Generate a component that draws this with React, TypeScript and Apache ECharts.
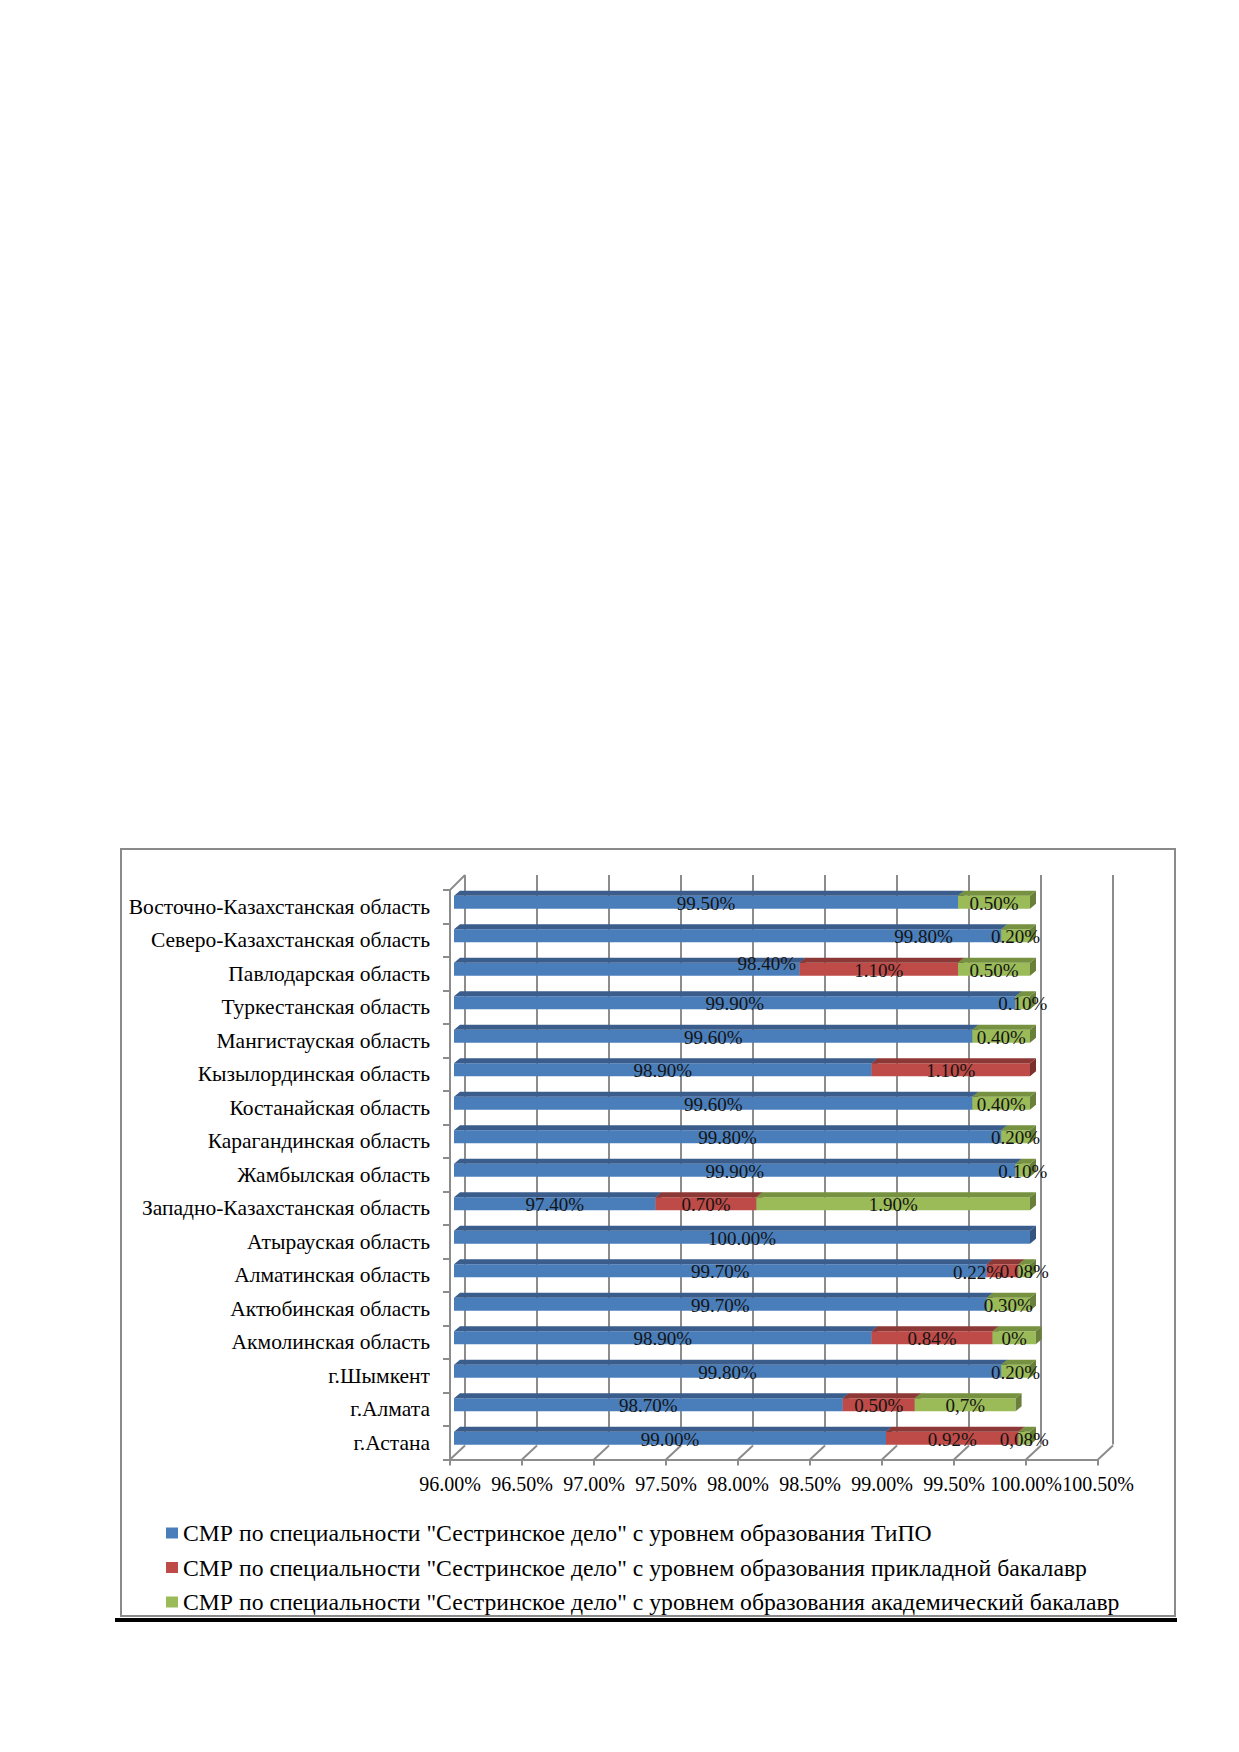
import React, { useEffect, useRef } from "react";
import * as echarts from "echarts";

const categories = [
  "Восточно-Казахстанская область",
  "Северо-Казахстанская область",
  "Павлодарская область",
  "Туркестанская область",
  "Мангистауская область",
  "Кызылординская область",
  "Костанайская область",
  "Карагандинская область",
  "Жамбылская область",
  "Западно-Казахстанская область",
  "Атырауская область",
  "Алматинская область",
  "Актюбинская область",
  "Акмолинская область",
  "г.Шымкент",
  "г.Алмата",
  "г.Астана",
];

const seriesNames = [
  'СМР по специальности "Сестринское дело" с уровнем образования ТиПО',
  'СМР по специальности "Сестринское дело" с уровнем образования прикладной бакалавр',
  'СМР по специальности "Сестринское дело" с уровнем образования академический бакалавр',
];

const tipoValues = [99.5, 99.8, 98.4, 99.9, 99.6, 98.9, 99.6, 99.8, 99.9, 97.4, 100, 99.7, 99.7, 98.9, 99.8, 98.7, 99.0];
const prikladValues = [0, 0, 1.1, 0, 0, 1.1, 0, 0, 0, 0.7, 0, 0.22, 0, 0.84, 0, 0.5, 0.92];
const akadValues = [0.5, 0.2, 0.5, 0.1, 0.4, 0, 0.4, 0.2, 0.1, 1.9, 0, 0.08, 0.3, 0.3, 0.2, 0.7, 0.08];

const tipoLabels = ["99.50%", "99.80%", "98.40%", "99.90%", "99.60%", "98.90%", "99.60%", "99.80%", "99.90%", "97.40%", "100.00%", "99.70%", "99.70%", "98.90%", "99.80%", "98.70%", "99.00%"];
const prikladLabels = ["", "", "1.10%", "", "", "1.10%", "", "", "", "0.70%", "", "0.22%", "", "0.84%", "", "0.50%", "0.92%"];
const akadLabels = ["0.50%", "0.20%", "0.50%", "0.10%", "0.40%", "", "0.40%", "0.20%", "0.10%", "1.90%", "", "0.08%", "0.30%", "0%", "0.20%", "0,7%", "0,08%"];

const xTicks = [96, 96.5, 97, 97.5, 98, 98.5, 99, 99.5, 100, 100.5];
const AXIS_MIN = 96;
const AXIS_MAX = 100.5;

// colours: front, top, side
const palette = [
  ["#4A7EBB", "#3A5D8C", "#34557F"],
  ["#BE4B48", "#8C3836", "#7C302E"],
  ["#9BBB59", "#76913F", "#68803A"],
];

// Excel moved a few labels by hand
const labelNudge: Record<string, [number, number]> = {
  "0-1": [196, 0],
  "0-2": [140, -7],
  "1-11": [-25, 1],
};

const GRAY = "#8C8C8C";
const FONT = '"Liberation Serif", "Times New Roman", serif';

const App: React.FC = () => {
  const chartRef = useRef<HTMLDivElement>(null);

  useEffect(() => {
    const chart = echarts.init(chartRef.current, null, { renderer: "svg" });

    const values = [tipoValues, prikladValues, akadValues];
    const labels = [tipoLabels, prikladLabels, akadLabels];

    const barSeries = values.map((vals, si) => {
      const data: any[] = [];
      vals.forEach((v, i) => {
        if (!v) return;
        let start = si === 0 ? AXIS_MIN : 0;
        for (let k = 0; k < si; k++) start += values[k][i];
        const end = si === 0 ? v : start + v;
        data.push({ value: [start, end, i], label: labels[si][i], key: si + "-" + i });
      });
      return {
        name: seriesNames[si],
        type: "custom",
        xAxisIndex: 0,
        yAxisIndex: 0,
        itemStyle: { color: palette[si][0] },
        encode: { x: [0, 1], y: 2 },
        data,
        renderItem: (params: any, api: any) => {
          const item = data[params.dataIndex];
          const s = api.value(0);
          const e = api.value(1);
          const ci = api.value(2);
          const p0 = api.coord([s, ci]);
          const p1 = api.coord([e, ci]);
          const x0 = p0[0] + 4;
          const x1 = p1[0] + 4;
          const c = p0[1];
          const yT = c - 11;
          const yB = c + 2;
          const dx = 6;
          const dy = 5;
          const [front, top, side] = palette[si];
          const nudge = labelNudge[item.key] || [0, 0];
          return {
            type: "group",
            children: [
              { type: "rect", shape: { x: x0, y: yT, width: x1 - x0, height: yB - yT }, style: { fill: front } },
              {
                type: "polygon",
                shape: { points: [[x0, yT], [x0 + dx, yT - dy], [x1 + dx, yT - dy], [x1, yT]] },
                style: { fill: top },
              },
              {
                type: "polygon",
                shape: { points: [[x1, yT], [x1 + dx, yT - dy], [x1 + dx, yB - dy], [x1, yB]] },
                style: { fill: side },
              },
              {
                type: "text",
                z2: 100,
                x: (x0 + x1) / 2 + nudge[0],
                y: c - 3.5 + nudge[1],
                style: {
                  text: item.label,
                  fill: "#141414",
                  fontSize: 19,
                  fontFamily: FONT,
                  align: "center",
                  verticalAlign: "middle",
                },
              },
            ],
          };
        },
      };
    });

    const floorSeries = {
      name: "floor",
      type: "custom",
      xAxisIndex: 0,
      yAxisIndex: 0,
      silent: true,
      encode: { x: 0, y: 1 },
      data: xTicks.map((t) => [t, 0]),
      renderItem: (params: any, api: any) => {
        const cs = params.coordSys;
        const px = api.coord([api.value(0), 0])[0];
        const yb = cs.y + cs.height;
        const children: any[] = [
          { type: "line", shape: { x1: px, y1: yb, x2: px + 15, y2: yb - 14 }, style: { stroke: GRAY, lineWidth: 2 } },
        ];
        if (params.dataIndex === 0) {
          children.push({
            type: "line",
            shape: { x1: cs.x, y1: cs.y, x2: cs.x + 15, y2: cs.y - 15 },
            style: { stroke: GRAY, lineWidth: 2 },
          });
        }
        return { type: "group", children };
      },
    };

    const option = {
      animation: false,
      backgroundColor: "#ffffff",
      textStyle: { fontFamily: FONT },
      grid: [
        { left: 450, top: 890, width: 648, height: 569.5 },
        { left: 465, top: 875, width: 648, height: 569.5 },
      ],
      xAxis: [
        {
          type: "value",
          gridIndex: 0,
          min: AXIS_MIN,
          max: AXIS_MAX,
          interval: 0.5,
          splitLine: { show: false },
          axisLine: { show: true, lineStyle: { color: GRAY, width: 2 } },
          axisTick: { show: true, length: 6, lineStyle: { color: GRAY, width: 2 } },
          axisLabel: {
            margin: 14,
            color: "#000",
            fontSize: 20,
            fontFamily: FONT,
            showMinLabel: true,
            showMaxLabel: true,
            hideOverlap: false,
            formatter: (v: number) => v.toFixed(2) + "%",
          },
        },
        {
          type: "value",
          gridIndex: 1,
          min: AXIS_MIN,
          max: AXIS_MAX,
          interval: 0.5,
          axisLine: { show: false },
          axisTick: { show: false },
          axisLabel: { show: false },
          splitLine: { show: true, lineStyle: { color: GRAY, width: 2 } },
        },
      ],
      yAxis: [
        {
          type: "category",
          gridIndex: 0,
          inverse: true,
          data: categories,
          axisLine: { show: true, lineStyle: { color: GRAY, width: 2 } },
          axisTick: { show: true, length: 7, lineStyle: { color: GRAY, width: 2 } },
          axisLabel: { margin: 20, color: "#000", fontSize: 21.5, fontFamily: FONT, interval: 0 },
        },
        {
          type: "category",
          gridIndex: 1,
          inverse: true,
          data: categories,
          show: false,
        },
      ],
      legend: {
        data: seriesNames,
        orient: "vertical",
        left: 161,
        top: 1516,
        itemWidth: 12,
        itemHeight: 11,
        itemGap: 10.5,
        icon: "rect",
        textStyle: { color: "#000", fontSize: 23.7, fontFamily: FONT, lineHeight: 24 },
        selectedMode: false,
      },
      graphic: [
        {
          type: "rect",
          shape: { x: 121, y: 849, width: 1054, height: 767 },
          style: { fill: "none", stroke: "#8A8A8A", lineWidth: 2 },
          z: -1,
        },
        {
          type: "rect",
          shape: { x: 115, y: 1618, width: 1062, height: 4 },
          style: { fill: "#000" },
        },
      ],
      series: [floorSeries, ...barSeries],
    };

    chart.setOption(option as any);
    return () => {
      chart.dispose();
    };
  }, []);

  return (
    <div
      ref={chartRef}
      style={{ position: "absolute", left: 0, top: 0, width: 1239, height: 1752, background: "#fff" }}
    ></div>
  );
};

export default App;
